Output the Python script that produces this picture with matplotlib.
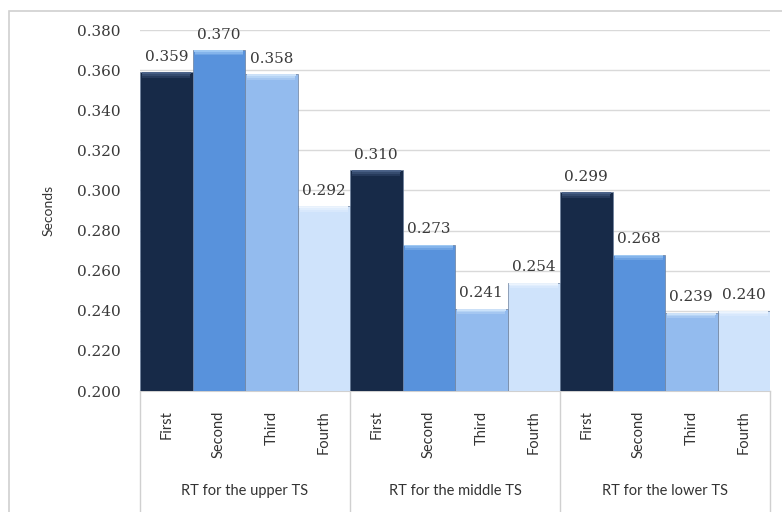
import numpy as np
import matplotlib.pyplot as plt
from matplotlib.patches import Rectangle
from matplotlib.lines import Line2D

groups = ['RT for the upper TS', 'RT for the middle TS', 'RT for the lower TS']
trials = ['First', 'Second', 'Third', 'Fourth']
rt_upper = [0.359, 0.370, 0.358, 0.292]
rt_middle = [0.310, 0.273, 0.241, 0.254]
rt_lower = [0.299, 0.268, 0.239, 0.240]

face_colors = ['#172a48', '#5892dc', '#93bbee', '#cfe3fb']
top_colors = ['#4a6288', '#a2ccf6', '#cfe5fb', '#eef6ff']

values = rt_upper + rt_middle + rt_lower
n_trials = len(trials)

fig = plt.figure(figsize=(7.82, 5.12), dpi=100)
W, H = 782, 512

# outer chart border (runs off the right and bottom edges)
fig.patches.append(Rectangle((9 / W, -0.1), 1.2, 1.1 - 11 / H, transform=fig.transFigure,
                             fill=False, edgecolor='#d0d0d0', linewidth=1.2))

ax = fig.add_axes([140 / W, 1 - 391 / H, 630 / W, 361 / H])
ax.set_ylim(0.2, 0.38)
ax.set_xlim(-0.5, len(values) - 0.5)

x = np.arange(len(values))
vals = np.array(values)
cols = [face_colors[i % n_trials] for i in range(len(values))]
tops = [top_colors[i % n_trials] for i in range(len(values))]

ax.bar(x, vals - 0.2, bottom=0.2, width=1.0, color=cols,
       edgecolor='#6b7f9c', linewidth=0.5, zorder=3)
# soft bevel along the top of each bar: a few fading strips
step = 0.0009
for k, a in enumerate([0.95, 0.6, 0.3]):
    ax.bar(x, step, bottom=vals - step * (k + 1), width=0.93 - 0.01 * k,
           color=tops, alpha=a, linewidth=0, zorder=4)

for xi, v in zip(x, values):
    ax.annotate(f'{v:.3f}', (xi, v), xytext=(0, 6), textcoords='offset points',
                ha='center', va='bottom', fontsize=11, family='DejaVu Serif',
                color='#3a3a3a')

ticks = np.arange(0.2, 0.3801, 0.02)
ax.set_yticks(ticks)
ax.set_yticklabels([f'{t:.3f}' for t in ticks],
                   family='DejaVu Serif', fontsize=11, color='#3a3a3a')
ax.tick_params(axis='y', length=0, pad=14)
ax.grid(axis='y', color='#d9d9d9', linewidth=1.0, zorder=0)
ax.set_axisbelow(True)

ax.set_xticks(x)
ax.set_xticklabels(trials * len(groups), rotation=90, family='Lato',
                   fontsize=10.5, color='#333333', va='top')
ax.tick_params(axis='x', length=0, pad=14)

for s in ['top', 'right', 'left']:
    ax.spines[s].set_visible(False)
ax.spines['bottom'].set_color('#d0d0d0')

ax.set_ylabel('Seconds', family='Lato', fontsize=10, color='#333333', labelpad=16)

# group separators and group names below the category axis
trans = ax.get_xaxis_transform()
y_low = -(520 - 391) / 361
for b in np.arange(0, len(values) + 1, n_trials) - 0.5:
    ax.add_line(Line2D([b, b], [0, y_low], transform=trans, color='#d0d0d0',
                       linewidth=1.0, clip_on=False))
for gi, name in enumerate(groups):
    ax.text(gi * n_trials + (n_trials - 1) / 2, -(491 - 391) / 361, name,
            transform=trans, ha='center', va='center', family='Lato',
            fontsize=10.5, color='#333333')

fig.savefig('out.png', dpi=100)
